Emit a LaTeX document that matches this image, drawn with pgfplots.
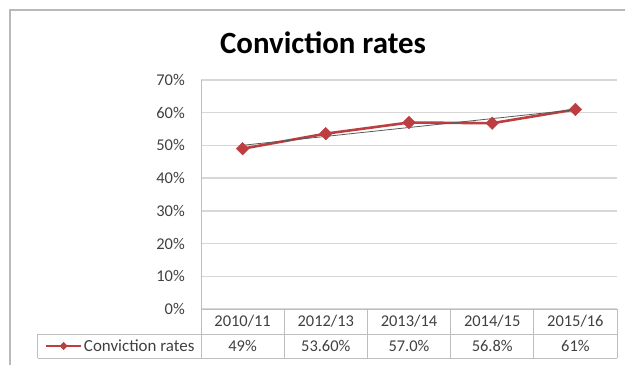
\documentclass[border=0pt]{standalone}
\usepackage{pgfplots}
\pgfplotsset{compat=1.18}
\usepackage{fontspec}
\setmainfont{Carlito}
\definecolor{serred}{RGB}{188,62,64}
\definecolor{gridc}{RGB}{215,215,215}
\definecolor{tabc}{RGB}{190,190,190}
\definecolor{txt}{RGB}{64,64,64}
\begin{document}
\begin{tikzpicture}
\path[use as bounding box] (-201bp,-56bp) rectangle (424bp,309bp);
% outer chart border
\draw[line width=1.2bp, draw=gray!55] (-191bp,299bp) rectangle (436bp,-62bp);
\node[font=\fontsize{31}{36}\selectfont\bfseries, text=black] at (122bp,266bp) {Conviction rates};
\begin{axis}[
  at={(0,0)}, anchor=south west,
  scale only axis, width=416bp, height=229bp,
  xmin=-0.5, xmax=4.5, ymin=0, ymax=70,
  ytick={0,10,...,70},
  yticklabel={\pgfmathprintnumber{\tick}\%},
  xtick={0,1,2,3,4},
  xticklabels={2010/11,2012/13,2013/14,2014/15,2015/16},
  xticklabel style={anchor=center, yshift=-12.5bp, inner sep=0pt},
  yticklabel style={anchor=east, inner sep=0pt, xshift=-16bp},
  /pgf/number format/assume math mode=true,
  tick label style={font=\fontsize{16.5}{19}\selectfont, text=txt},
  major tick length=0pt,
  axis line style={draw=none},
  ymajorgrids, grid style={gridc, line width=1.3bp},
  clip=false,
  legend style={at={(axis description cs:-0.375,-0.1616)}, anchor=west, draw=none, fill=none, inner sep=0pt, font=\fontsize{17}{19}\selectfont, text=txt, legend cell align=left},
  legend image code/.code={\draw[mark repeat=2,mark phase=2,#1, line width=1.8bp, mark size=2.6bp] plot coordinates {(0bp,0bp) (17.5bp,0bp) (35bp,0bp)};},
]
\addplot[serred, line width=2.6bp, mark=square*, mark size=4.4bp, mark options={rotate=45, fill=serred, draw=serred, line width=0.5bp}]
  coordinates {(0,49) (1,53.6) (2,57.0) (3,56.8) (4,61)};
\addlegendentry{Conviction rates}
\addplot[gray!70!black, line width=0.8bp, forget plot] coordinates {(0,50.04) (4,60.92)};
\node[font=\fontsize{16.5}{19}\selectfont, text=txt] at (axis cs:0,-11.3) {49\%};
\node[font=\fontsize{16.5}{19}\selectfont, text=txt] at (axis cs:1,-11.3) {53.60\%};
\node[font=\fontsize{16.5}{19}\selectfont, text=txt] at (axis cs:2,-11.3) {57.0\%};
\node[font=\fontsize{16.5}{19}\selectfont, text=txt] at (axis cs:3,-11.3) {56.8\%};
\node[font=\fontsize{16.5}{19}\selectfont, text=txt] at (axis cs:4,-11.3) {61\%};
\end{axis}
% y axis line and data table
\begin{scope}[tabc, line width=1bp]
\draw (0bp,229bp) -- (0bp,-49bp);
\draw (0bp,0bp) -- (416bp,0bp);
\draw (-163bp,-25bp) -- (416bp,-25bp);
\draw (-163bp,-49bp) -- (416bp,-49bp);
\draw (-163bp,-25bp) -- (-163bp,-49bp);
\foreach \xx in {83.2,166.4,249.6,332.8,416} \draw (\xx bp,0bp) -- (\xx bp,-49bp);
\end{scope}
\end{tikzpicture}
\end{document}
